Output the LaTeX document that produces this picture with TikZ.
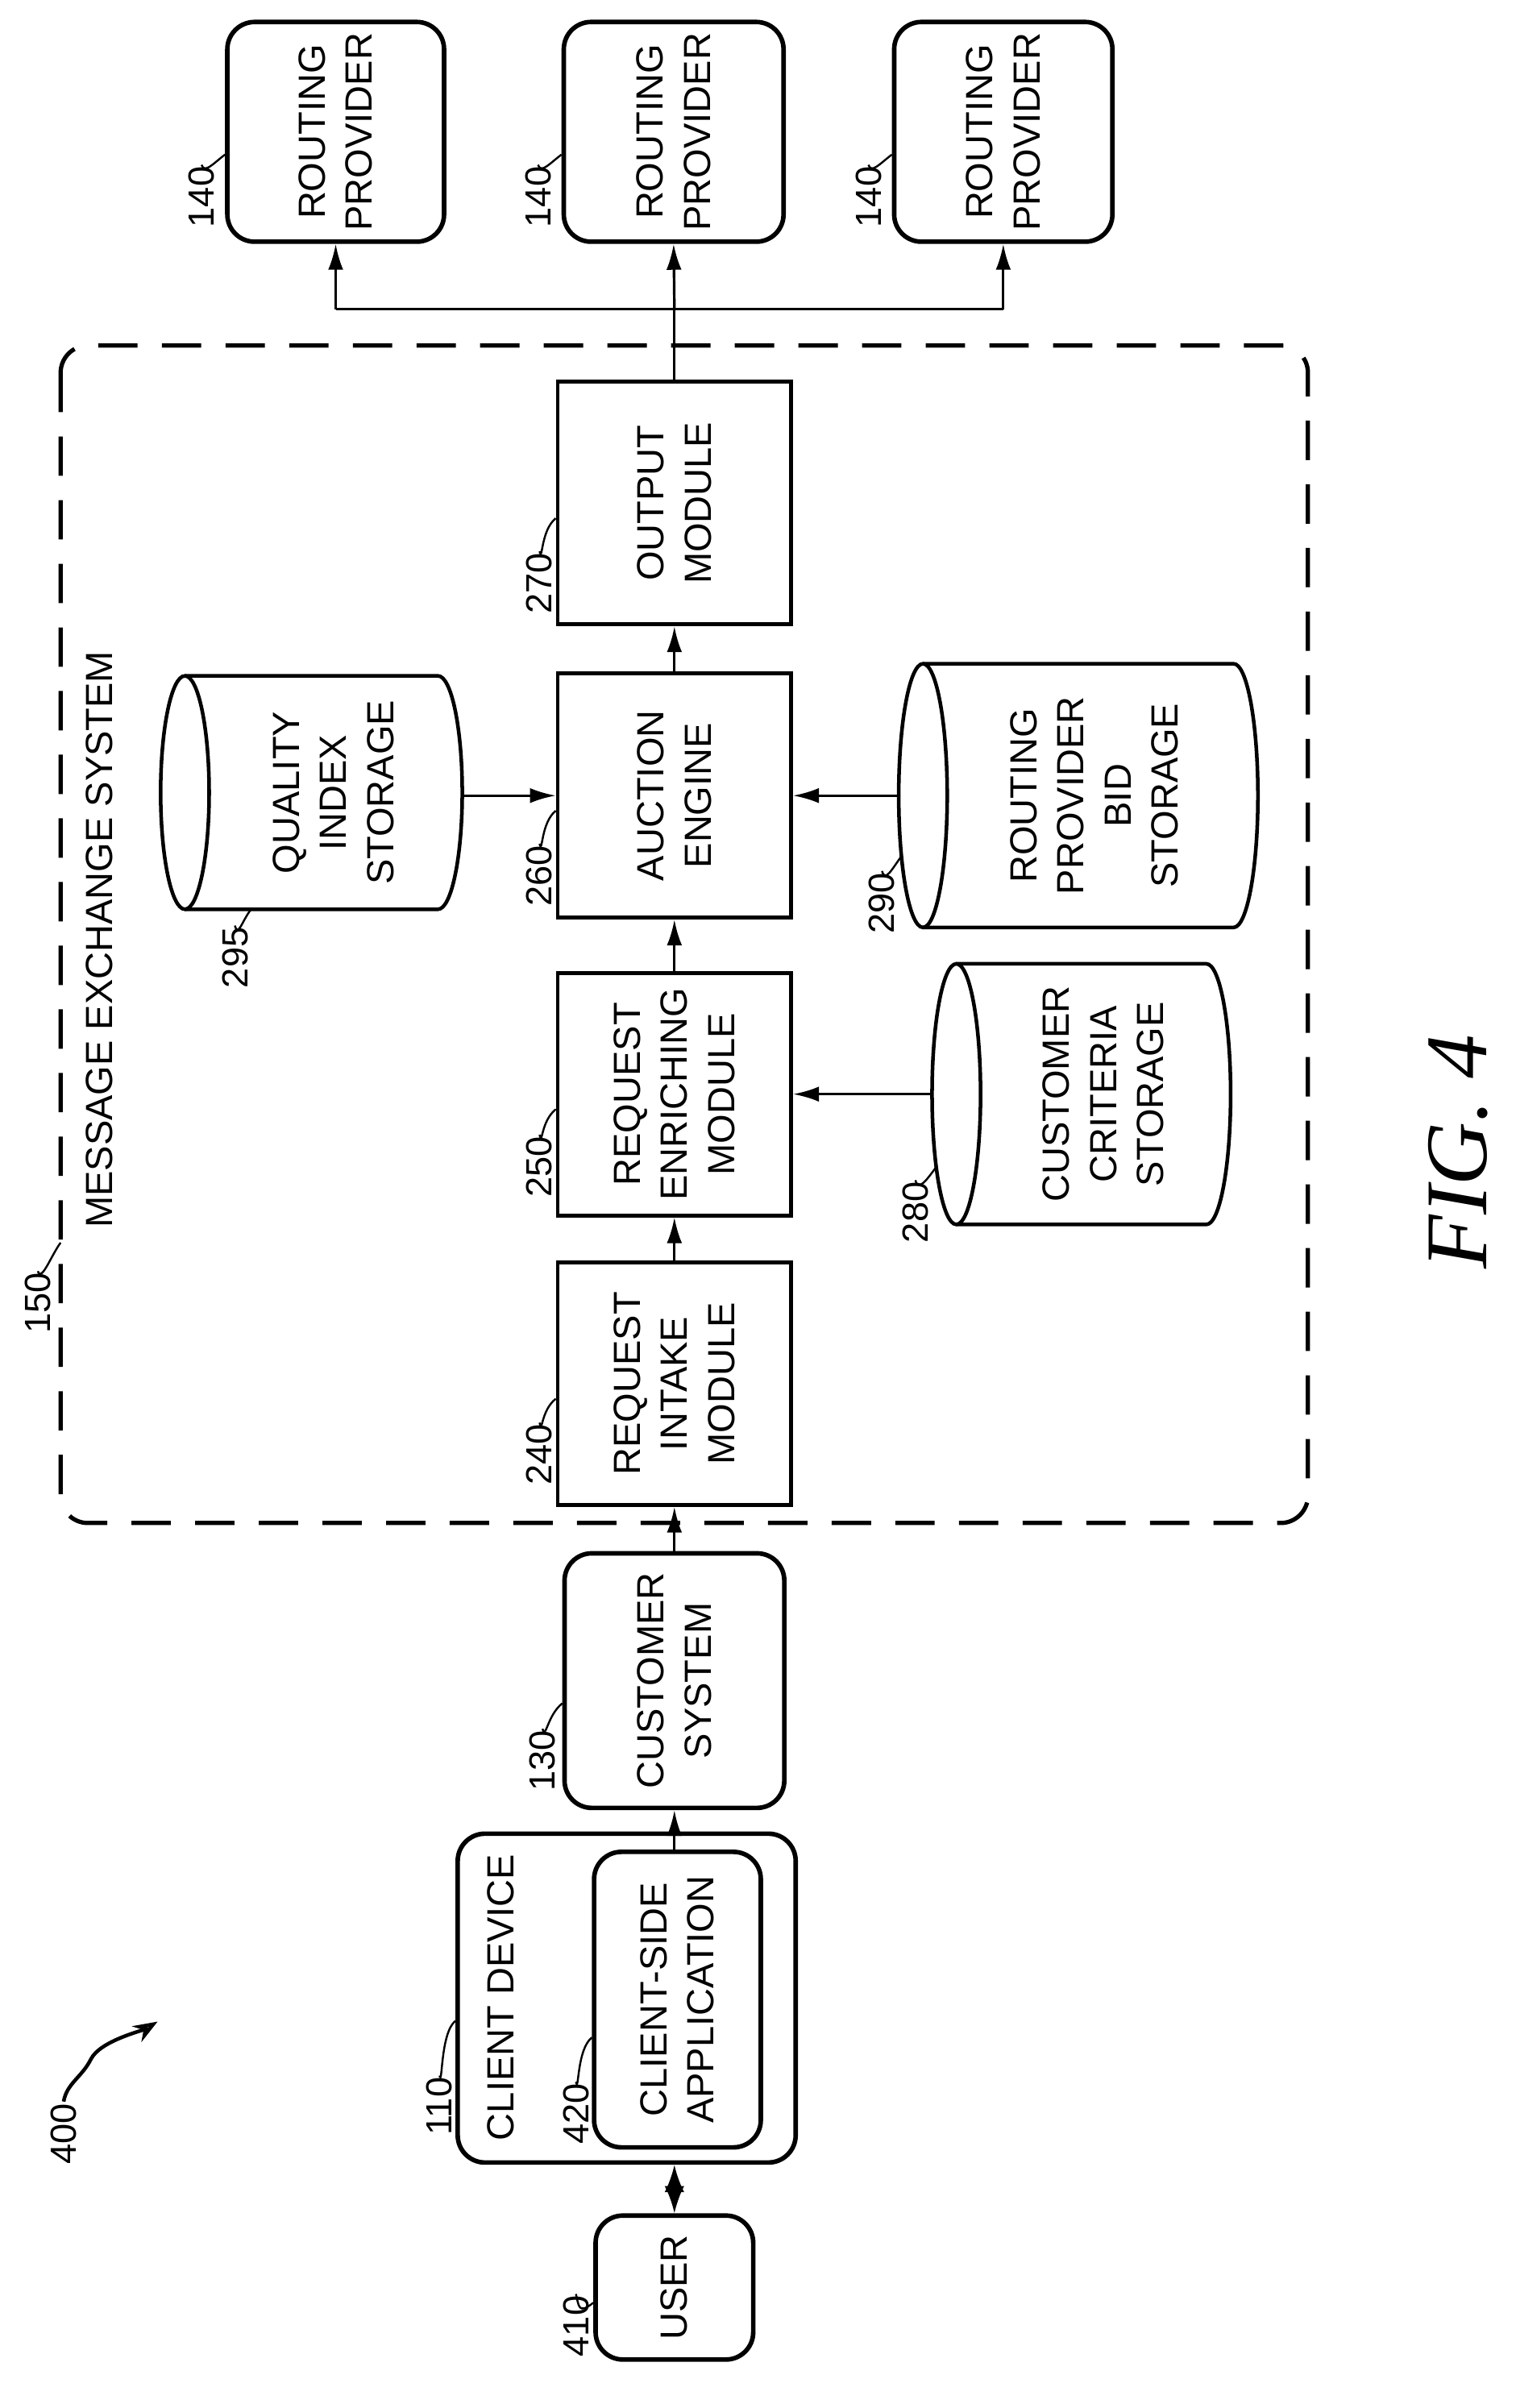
\documentclass[tikz,border=0pt]{standalone}
\usepackage{fontspec}
\setmainfont{Liberation Sans}
\newfontfamily\figfont{Liberation Serif}
\usetikzlibrary{arrows.meta,calc}
\newcommand\mycyl[5]{% name, left x, center y, right x, ry
  \node[minimum width={#4-#2+32}, minimum height={2*#5}, inner sep=0] (#1) at ({(#2+#4)/2},#3) {};
  \draw[line width=2.4] (#2,#3) ellipse [x radius=16, y radius=#5];
  \draw[line width=2.4] (#2,{#3+#5}) -- (#4,{#3+#5}) arc[start angle=90,end angle=-90,x radius=16,y radius=#5] -- (#2,{#3-#5});
}
\begin{document}
\begin{tikzpicture}[x=1pt,y=1pt,
  txt/.style={font=\fontsize{25}{31}\selectfont, align=center, rotate=90},
  rbox/.style={draw, line width=3, rounded corners=18, inner sep=0},
  sbox/.style={draw, line width=2.6, inner sep=0},
  num/.style={font=\fontsize{24}{28}\selectfont, rotate=90, inner sep=1},
  lead/.style={line width=1.3},
  arr/.style={line width=1.7, -{Latex[length=17,width=10]}}]
\useasboundingbox (0,0) rectangle (1000,-1589);
% routing providers
\foreach \i/\xa/\xb in {1/150/293,2/372/517,3/590/734}{
  \node[rbox, minimum width={\xb-\xa}, minimum height=145] (rp\i) at ({(\xa+\xb)/2},-87) {};
  \node[txt] at (rp\i) {ROUTING\\PROVIDER};
}
% dashed system box
\draw[line width=2.8, dash pattern=on 26 off 16, rounded corners=18] (40,-228) rectangle (863,-1005);
\node[txt, anchor=south] (mes) at (78,-620) {MESSAGE EXCHANGE SYSTEM};
% modules
\node[sbox, minimum width=154, minimum height=160] (om) at (445,-332) {};
\node[txt] at (om) {OUTPUT\\MODULE};
\node[sbox, minimum width=154, minimum height=161] (ae) at (445,-525) {};
\node[txt] at (ae) {AUCTION\\ENGINE};
\node[sbox, minimum width=154, minimum height=160] (re) at (445,-722) {};
\node[txt] at (re) {REQUEST\\ENRICHING\\MODULE};
\node[sbox, minimum width=154, minimum height=160] (ri) at (445,-913) {};
\node[txt] at (ri) {REQUEST\\INTAKE\\MODULE};
% cylinders
\mycyl{qis}{122}{-523}{289}{77}
\node[txt] at (220,-523) {QUALITY\\INDEX\\STORAGE};
\mycyl{rpb}{609}{-525}{814}{87}
\node[txt] at (722,-525) {ROUTING\\PROVIDER\\BID\\STORAGE};
\mycyl{ccs}{631}{-722}{796}{86}
\node[txt] at (728,-722) {CUSTOMER\\CRITERIA\\STORAGE};
% customer system, client device, user
\node[rbox, minimum width=145, minimum height=168] (cs) at (445,-1109) {};
\node[txt] at (cs) {CUSTOMER\\SYSTEM};
\node[rbox, minimum width=223, minimum height=217] (cd) at (413.5,-1318.5) {};
\node[txt, anchor=south] at (343,-1318) {CLIENT DEVICE};
\node[rbox, minimum width=110, minimum height=195] (app) at (447,-1319.5) {};
\node[txt] at (app) {CLIENT-SIDE\\APPLICATION};
\node[rbox, minimum width=104, minimum height=95] (usr) at (445,-1509.5) {};
\node[txt] at (usr) {USER};
% connectors
\coordinate (bus) at (445,-204);
\draw[line width=1.7] (om.north) -- (bus);
\draw[line width=1.7] (rp1.south |- bus) -- (rp3.south |- bus);
\draw[arr] (rp1.south |- bus) -- (rp1.south);
\draw[arr] (bus) -- (rp2.south);
\draw[arr] (rp3.south |- bus) -- (rp3.south);
\draw[arr] (ae.north) -- (om.south);
\draw[arr] (re.north) -- (ae.south);
\draw[arr] (ri.north) -- (re.south);
\draw[arr] (cs.north) -- (ri.south);
\draw[arr] (app.north -| cs.south) -- (cs.south);
\draw[arr] (qis.east |- ae.west) -- (ae.west);
\draw[arr] (rpb.west |- ae.east) -- (ae.east);
\draw[arr] (ccs.west |- re.east) -- (re.east);
\draw[line width=1.7, {Latex[length=18,width=13]}-{Latex[length=18,width=13]}] (usr.north) -- (usr.north |- cd.south);
% reference numbers
\foreach \i/\x in {1/133,2/355,3/573}{
  \node[num] (n\i) at (\x,-130) {140};
  \draw[lead] (n\i.east) .. controls +(2,-6) and +(-8,-6) .. ([yshift=-15]rp\i.west);
}
\node[num] (n270) at (356,-385) {270};
\draw[lead] (n270.east) .. controls +(2,-8) and +(-10,-8) .. ([yshift=-10]om.west);
\node[num] (n260) at (356,-578) {260};
\draw[lead] (n260.east) .. controls +(2,-8) and +(-10,-8) .. ([yshift=-10]ae.west);
\node[num] (n250) at (356,-770) {250};
\draw[lead] (n250.east) .. controls +(2,-8) and +(-10,-8) .. ([yshift=-10]re.west);
\node[num] (n240) at (356,-960) {240};
\draw[lead] (n240.east) .. controls +(2,-8) and +(-10,-8) .. ([yshift=-10]ri.west);
\node[num] (n130) at (358,-1162) {130};
\draw[lead] (n130.east) .. controls +(2,-8) and +(-10,-8) .. ([yshift=-15]cs.west);
\node[num] (n110) at (290,-1390) {110};
\draw[lead] (n110.east) .. controls +(2,-8) and +(-10,-8) .. ([yshift=-15]cd.west);
\node[num] (n420) at (380,-1395) {420};
\draw[lead] (n420.east) .. controls +(2,-8) and +(-10,-8) .. ([yshift=-25]app.west);
\node[num] (n410) at (380,-1535) {410};
\draw[lead] (n410.east) .. controls +(2,-8) and +(-10,-8) .. ([yshift=-10]usr.west);
\node[num] (n295) at (155,-632) {295};
\draw[lead] (n295.east) .. controls +(2,-8) and +(-6,-8) .. ([xshift=-40]qis.south);
\node[num] (n290) at (582,-596) {290};
\draw[lead] (n290.east) .. controls +(2,-8) and +(-6,-8) .. ($(rpb.west)+(2,-40)$);
\node[num] (n280) at (604,-800) {280};
\draw[lead] (n280.east) .. controls +(2,-8) and +(-6,-8) .. ($(ccs.west)+(3,-48)$);
\node[num] (n150) at (25,-860) {150};
\draw[lead] (n150.east) .. controls +(2,-8) and +(-6,-8) .. (40,-820);
\node[num] (n400) at (42,-1408) {400};
\coordinate (t400) at (104,-1334);
\draw[line width=2.4, -{Stealth[open,length=16,width=12]}] (n400.east) .. controls +(2,12) and +(-6,-12) .. ++(18,28) .. controls +(6,12) and +(-10,-6) .. (t400);
% figure label
\node[font=\figfont\itshape\fontsize{58}{60}\selectfont, rotate=90] (fig) at (962,-760) {FIG. 4};
\end{tikzpicture}
\end{document}
